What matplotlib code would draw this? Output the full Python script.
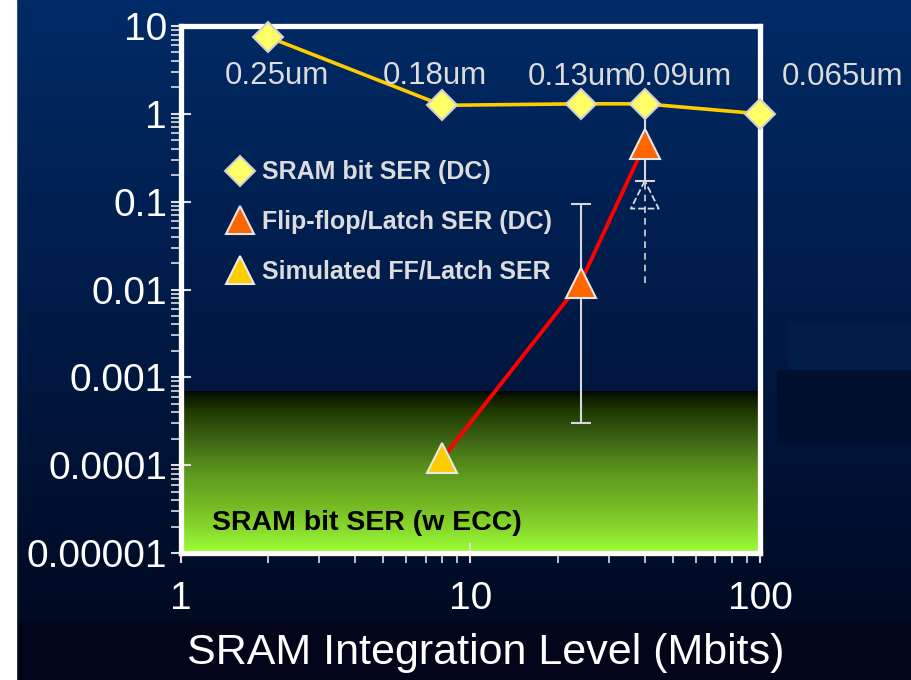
import numpy as np
import matplotlib
matplotlib.use("Agg")
import matplotlib.pyplot as plt
from matplotlib.colors import LinearSegmentedColormap
from matplotlib.lines import Line2D
from matplotlib.patches import Rectangle
from matplotlib.ticker import LogLocator, NullFormatter

# SRAM bit SER (DC) per technology node
sram_mbits = [2, 8, 24, 40, 100]
sram_ser = [7.5, 1.25, 1.3, 1.3, 1.0]
node_labels = ["0.25um", "0.18um", "0.13um", "0.09um", "0.065um"]

# Flip-flop / latch SER (DC), with measured range
ff_mbits = [24, 40]
ff_ser = [0.012, 0.45]
ff_low = [3e-4, 0.17]
ff_high = [0.095, 1.2]

# Simulated FF/latch SER
sim_mbits = [8]
sim_ser = [1.2e-4]

# 0.09um simulated estimate (dashed)
est_mbits = [40]
est_ser = [0.12]
est_range = [0.012, 0.17]

# upper edge of the ECC-protected SRAM region
ecc_top = 7e-4

x_ticks = [1, 10, 100]
x_tick_labels = ["1", "10", "100"]
y_ticks = [1e-5, 1e-4, 1e-3, 1e-2, 1e-1, 1, 10]
y_tick_labels = ["0.00001", "0.0001", "0.001", "0.01", "0.1", "1", "10"]

# label offsets (pixels) relative to each SRAM point
label_offsets = [(9, -39), (-8, 29), (-1, 27), (35, 27), (83, 37)]

plt.rcParams["font.family"] = ["Liberation Sans", "DejaVu Sans"]

fig = plt.figure(figsize=(9.12, 6.8), dpi=100)

# ── slide background ──
bg = fig.add_axes([0, 0, 1, 1])
bg.set_zorder(-10)
bg_cmap = LinearSegmentedColormap.from_list("slide", [
    (0.00, "#002b66"), (0.45, "#001b48"), (0.80, "#000e2c"),
    (0.915, "#000a22"), (0.92, "#03061b"), (1.00, "#03051a")])
bg.imshow(np.linspace(0, 1, 680).reshape(-1, 1), cmap=bg_cmap, aspect="auto",
          extent=(0, 1, 0, 1), origin="upper")
bg.add_patch(Rectangle((0, 0), 16 / 912, 1, color="white"))
# faint panels on the right edge of the slide
bg.add_patch(Rectangle((788 / 912, 1 - 370 / 680), 1, 47 / 680, color="#001d4a", lw=0))
bg.add_patch(Rectangle((777 / 912, 1 - 443 / 680), 1, 73 / 680, color="#000f2e", lw=0))
bg.set_xlim(0, 1)
bg.set_ylim(0, 1)
bg.axis("off")

# ── main log-log axes ──
ax_rect = [181 / 912, 1 - 553 / 680, 579 / 912, 527 / 680]
ax = fig.add_axes(ax_rect)
ax.patch.set_alpha(0)
ax.set_xscale("log")
ax.set_yscale("log")
ax.set_xlim(1, 100)
ax.set_ylim(1e-5, 10)

# green gradient band below the ECC limit
frac = ax.transAxes.inverted().transform(ax.transData.transform((1, ecc_top)))[1]
gax = fig.add_axes([ax_rect[0], ax_rect[1], ax_rect[2], ax_rect[3] * frac])
gax.set_zorder(-5)
green_cmap = LinearSegmentedColormap.from_list("ecc", [
    (0.00, "#000000"), (0.03, "#0a1400"), (0.12, "#1e3800"), (0.30, "#3c6415"),
    (0.50, "#5c961e"), (0.70, "#74b824"), (0.85, "#88d82e"), (1.00, "#9cff33")])
gax.imshow(np.linspace(0, 1, 256).reshape(-1, 1), cmap=green_cmap, aspect="auto",
           extent=(0, 1, 0, 1), origin="upper")
gax.axis("off")

# error bars on the flip-flop points
ff_ser_a = np.array(ff_ser)
yerr = [ff_ser_a - np.array(ff_low), np.array(ff_high) - ff_ser_a]
ax.errorbar(ff_mbits, ff_ser, yerr=yerr, fmt="none", ecolor="#d8d8d8",
            elinewidth=1.5, capsize=7, capthick=1.5, zorder=3)

# dashed simulated estimate at 0.09um
ax.plot(est_mbits * 2, est_range, ls=(0, (4, 3)), color="#d8d8d8", lw=1.2, zorder=3)
ax.scatter(est_mbits, est_ser, marker="^", s=20 ** 2, facecolors="none",
           edgecolors="#d8d8d8", linestyles="--", linewidths=1.3, zorder=3)

# red trend: simulated point + measured flip-flop points
ax.plot(sim_mbits + ff_mbits, sim_ser + ff_ser, color="#ff0000", lw=2.8, zorder=4)

# SRAM bit SER curve
ax.plot(sram_mbits, sram_ser, color="#ffcc00", lw=2.6, marker="D", ms=15,
        mfc="#ffff66", mec="#d0d0d0", mew=1.5, zorder=6, clip_on=False)

ax.plot(ff_mbits, ff_ser, ls="none", marker="^", ms=21, mfc="#ff6600",
        mec="#e8e8e8", mew=1.5, zorder=6)
ax.plot(sim_mbits, sim_ser, ls="none", marker="^", ms=21, mfc="#ffcc00",
        mec="#e8e8e8", mew=1.5, zorder=6)

for x, y, lab, (dx, dy) in zip(sram_mbits, sram_ser, node_labels, label_offsets):
    ax.annotate(lab, (x, y), xytext=(dx, dy), textcoords="offset pixels",
                ha="center", va="center", fontsize=22.5, color="#dcdcdc",
                annotation_clip=False, zorder=7)

ax.text(0.054, 0.057, "SRAM bit SER (w ECC)", transform=ax.transAxes,
        ha="left", va="center", fontsize=20.5, fontweight="bold", color="black")

handles = [
    Line2D([], [], ls="none", marker="D", ms=15, mfc="#ffff66", mec="#d0d0d0", mew=1.5),
    Line2D([], [], ls="none", marker="^", ms=20, mfc="#ff6600", mec="#e8e8e8", mew=1.5),
    Line2D([], [], ls="none", marker="^", ms=20, mfc="#ffcc00", mec="#e8e8e8", mew=1.5),
]
ax.legend(handles, ["SRAM bit SER (DC)", "Flip-flop/Latch SER (DC)", "Simulated FF/Latch SER"],
          loc="upper left", bbox_to_anchor=(0.080, 0.745), frameon=False,
          prop={"weight": "bold", "size": 18}, labelcolor="#dcdcdc",
          handlelength=1.0, handletextpad=0.4, labelspacing=1.02,
          borderpad=0, borderaxespad=0, numpoints=1)

# ticks and frame
ax.set_xticks(x_ticks, labels=x_tick_labels)
ax.set_yticks(y_ticks, labels=y_tick_labels)
ax.xaxis.set_minor_locator(LogLocator(subs=np.arange(2, 10), numticks=20))
ax.yaxis.set_minor_locator(LogLocator(subs=np.arange(2, 10), numticks=20))
ax.xaxis.set_minor_formatter(NullFormatter())
ax.yaxis.set_minor_formatter(NullFormatter())
ax.tick_params(which="major", direction="inout", length=14, width=1.5,
               color="#e0e0e0", labelsize=28, labelcolor="white")
ax.tick_params(axis="x", which="major", pad=13)
ax.tick_params(axis="y", which="major", pad=3)
ax.tick_params(which="minor", direction="out", length=7, width=1.2, color="#e0e0e0")
for sp in ax.spines.values():
    sp.set_color("white")
    sp.set_linewidth(3.8)

ax.set_xlabel("SRAM Integration Level (Mbits)", fontsize=31, color="white")
ax.xaxis.set_label_coords(0.527, -0.152)

fig.savefig("out.png", dpi=100)
